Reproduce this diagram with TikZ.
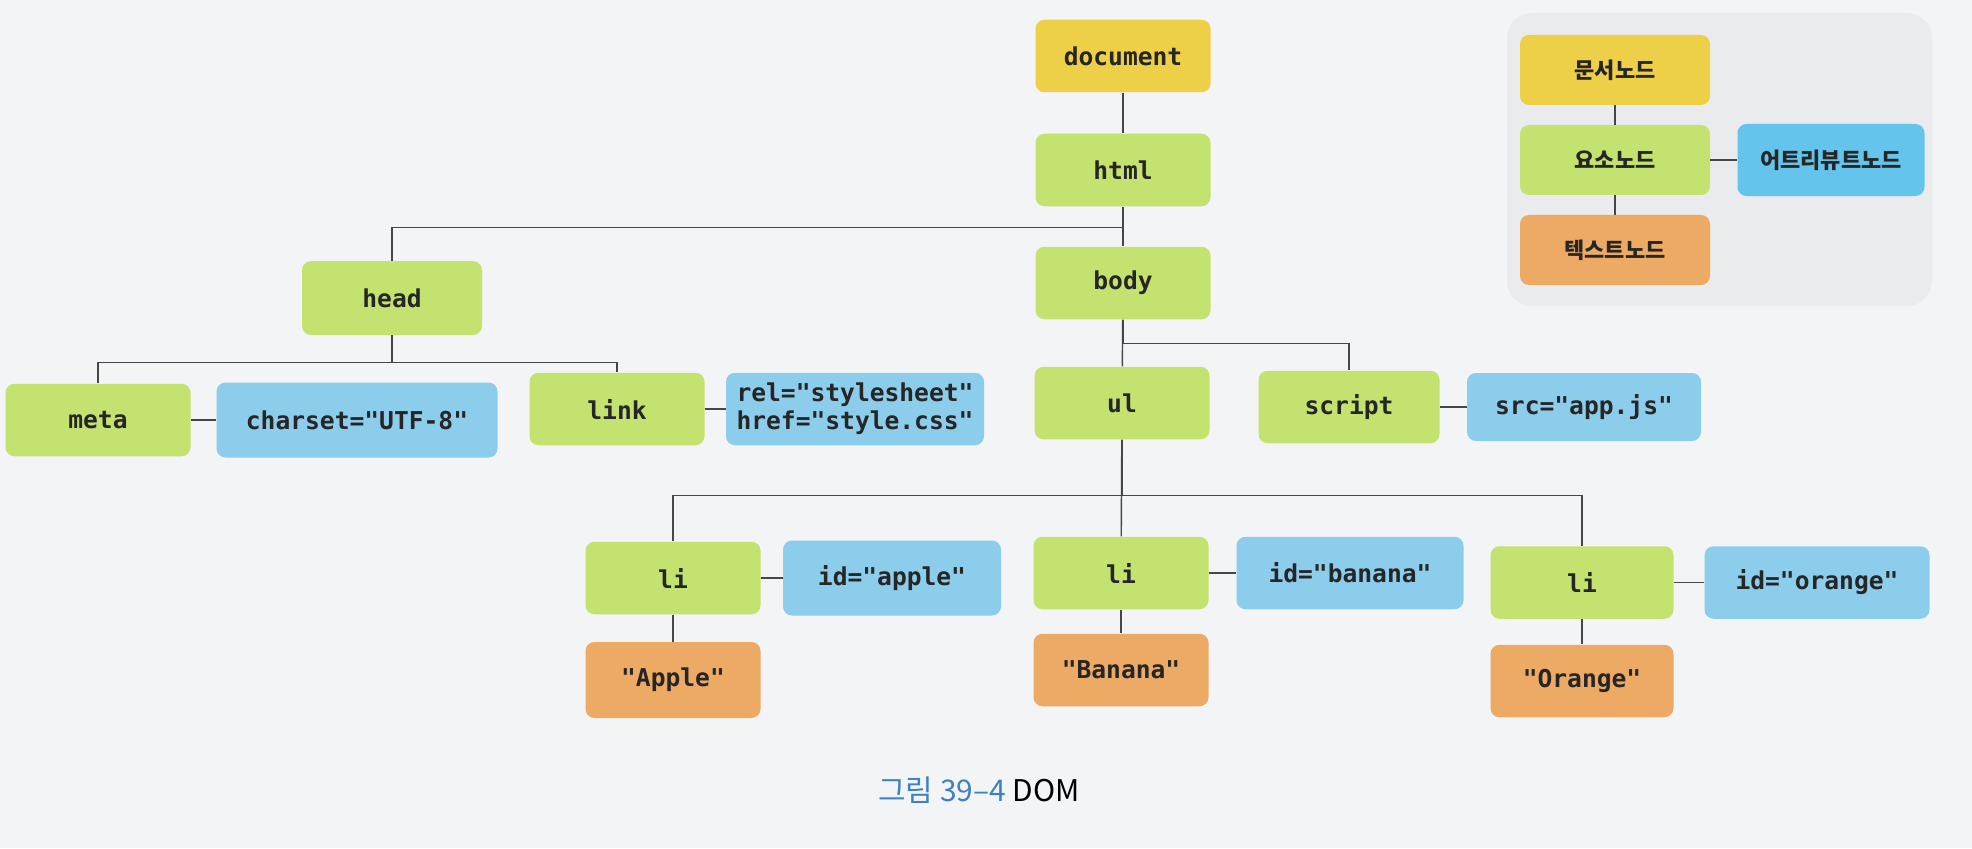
\documentclass[tikz,border=0pt]{standalone}
\usepackage{fontspec}
\usepackage{xcolor}
\setmonofont{DejaVu Sans Mono}
\newfontfamily\krfont{Noto Sans CJK KR}
\definecolor{paper}{RGB}{243,244,245}
\definecolor{legendbg}{RGB}{233,235,237}
\definecolor{documentnode}{RGB}{237,207,72}
\definecolor{element}{RGB}{196,226,112}
\definecolor{attribute}{RGB}{140,205,236}
\definecolor{legendattribute}{RGB}{100,196,236}
\definecolor{textnode}{RGB}{236,170,100}
\definecolor{wire}{RGB}{70,70,70}
\definecolor{captionblue}{RGB}{62,128,196}
\tikzstyle{box}=[rounded corners=.18cm, minimum width=3.5cm, minimum height=1.45cm, inner sep=0pt, text=black!85, font=\ttfamily\bfseries\fontsize{14}{16}\selectfont]
\tikzstyle{legend}=[box, minimum width=3.8cm, minimum height=1.4cm, font=\krfont\bfseries\fontsize{12.5}{14}\selectfont]
\tikzset{documentbox/.style={fill = documentnode}}
\tikzset{elementbox/.style={fill = element}}
\tikzset{attrbox/.style={fill = attribute}}
\tikzset{textbox/.style={fill = textnode}}
\tikzset{wire/.style={draw = wire, line width=.8pt}}

\begin{document}
\begin{tikzpicture}
  %% Page
  \fill[paper] (0,0) rectangle (39.44,16.96);
  \useasboundingbox (0,0) rectangle (39.44,16.96);
  \fill[legendbg, rounded corners=.5cm] (30.14,10.84) rectangle (38.64,16.70);

  %% Tree
  \draw (22.46,15.84) node[box,documentbox] (document) {document};
  \draw (22.46,13.56) node[box,elementbox] (html) {html};
  \draw (22.46,11.30) node[box,elementbox] (body) {body};

  \draw (7.84,11.00) node[box,elementbox,minimum width=3.6cm,minimum height=1.48cm] (head) {head};
  \draw (1.96,8.56) node[box,elementbox,minimum width=3.7cm] (meta) {meta};
  \draw (7.14,8.56) node[box,attrbox,minimum width=5.62cm,minimum height=1.5cm] (charset) {charset="UTF-8"};
  \draw (12.34,8.78) node[box,elementbox] (link) {link};
  \draw (17.10,8.78) node[box,attrbox,minimum width=5.16cm,align=left] (relhref) {rel="stylesheet"\\href="style.css"};

  \draw (22.44,8.90) node[box,elementbox] (ul) {ul};
  \draw (26.98,8.82) node[box,elementbox,minimum width=3.62cm] (script) {script};
  \draw (31.68,8.82) node[box,attrbox,minimum width=4.68cm,minimum height=1.36cm] (src) {src="app.js"};

  \draw (13.46,5.40) node[box,elementbox] (li1) {li};
  \draw (17.84,5.40) node[box,attrbox,minimum width=4.36cm,minimum height=1.5cm] (idapple) {id="apple"};
  \draw (22.42,5.50) node[box,elementbox] (li2) {li};
  \draw (27.00,5.50) node[box,attrbox,minimum width=4.54cm] (idbanana) {id="banana"};
  \draw (31.64,5.31) node[box,elementbox,minimum width=3.66cm] (li3) {li};
  \draw (36.34,5.31) node[box,attrbox,minimum width=4.5cm] (idorange) {id="orange"};

  \draw (13.46,3.36) node[box,textbox,minimum height=1.52cm] (apple) {"Apple"};
  \draw (22.42,3.56) node[box,textbox] (banana) {"Banana"};
  \draw (31.64,3.34) node[box,textbox,minimum width=3.66cm] (orange) {"Orange"};

  \draw[wire] (document) -- (html);
  \draw[wire] (html) -- (body);
  \draw[wire] (html.south) -- ++(0,-.42) -| (head.north);
  \draw[wire] (head.south) -- ++(0,-.54) -| (meta.north);
  \draw[wire] (head.south) -- ++(0,-.54) -| (link.north);
  \draw[wire] (meta) -- (charset);
  \draw[wire] (link) -- (relhref);

  \draw[wire] (body) -- (ul);
  \draw[wire] (body.south) -- ++(0,-.48) -| (script.north);
  \draw[wire] (script) -- (src);

  \draw[wire] (ul) -- (li2);
  \draw[wire] (ul.south) -- ++(0,-1.12) -| (li1.north);
  \draw[wire] (ul.south) -- ++(0,-1.12) -| (li3.north);
  \draw[wire] (li1) -- (idapple);
  \draw[wire] (li2) -- (idbanana);
  \draw[wire] (li3) -- (idorange);
  \draw[wire] (li1) -- (apple);
  \draw[wire] (li2) -- (banana);
  \draw[wire] (li3) -- (orange);

  %% Legend things
  \draw (32.30,15.56) node[legend,documentbox] (docnode) {문서노드};
  \draw (32.30,13.76) node[legend,elementbox] (elemnode) {요소노드};
  \draw (36.62,13.76) node[legend,fill=legendattribute,minimum width=3.74cm,minimum height=1.44cm] (attrnode) {어트리뷰트노드};
  \draw (32.30,11.96) node[legend,textbox] (textnodebox) {텍스트노드};
  \draw[wire] (docnode) -- (elemnode);
  \draw[wire] (elemnode) -- (textnodebox);
  \draw[wire] (elemnode) -- (attrnode);

  %% Caption
  \draw (19.58,1.16) node[font=\krfont\fontsize{17}{20}\selectfont] (caption) {\textcolor{captionblue}{그림 39–4} DOM};
\end{tikzpicture}
\end{document}
